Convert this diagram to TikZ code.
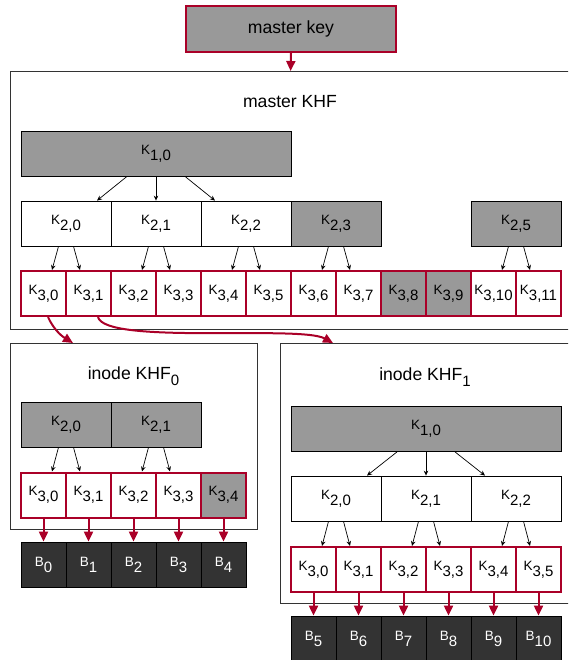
\documentclass[tikz,border=0pt]{standalone}
\usepackage{fontspec}
\setmainfont{Liberation Sans}
\usetikzlibrary{arrows.meta,calc}
\definecolor{kred}{RGB}{170,0,40}
\definecolor{kgray}{RGB}{153,153,153}
\definecolor{kdark}{RGB}{51,51,51}
\newcommand\lab[2]{#1\raisebox{-6pt}{\fontsize{15}{15}\selectfont #2}}
\begin{document}
\begin{tikzpicture}[x=1pt,y=-1pt,
 every node/.style={inner sep=0pt, font=\fontsize{13.5}{15}\selectfont},
 kbox/.style={draw=black, line width=0.8pt, fill=white, minimum width=90pt, minimum height=45pt},
 widebox/.style={kbox, minimum width=270pt},
 grayed/.style={fill=kgray},
 kthree/.style={draw=kred, line width=2pt, minimum width=45pt, minimum height=45pt},
 bbox/.style={draw=black, line width=0.8pt, fill=kdark, text=white, minimum width=45pt, minimum height=45pt},
 frame/.style={draw=kdark, line width=1.2pt, anchor=north west},
 title/.style={anchor=base, font=\fontsize{17.6}{20}\selectfont},
 karrow/.style={-{Stealth[length=5pt,width=4.5pt]}, line width=0.7pt},
 rarrow/.style={-{Triangle[length=10pt,width=9pt]}, draw=kred, line width=2pt},
]
\useasboundingbox (0,0) rectangle (568,660);
\clip (0,0) rectangle (568,660);

% frames
\node[frame, minimum width=560pt, minimum height=258pt] (mk) at (10,71) {};
\node[frame, minimum width=247pt, minimum height=186pt] (i0) at (10,343) {};
\node[frame, minimum width=290pt, minimum height=260pt] (i1) at (280,343) {};

% master key
\node[draw=kred, line width=2pt, fill=kgray, minimum width=210pt, minimum height=46pt,
      font=\fontsize{17.6}{20}\selectfont] (key) at (291,29) {master key};
\draw[rarrow] (key.south) -- (mk.north);

% titles
\node[title] (t0) at (290,108) {master KHF};
\node[title] (t1) at (133.5,379) {inode KHF\raisebox{-6pt}{\fontsize{15}{15}\selectfont 0}};
\node[title] (t2) at (425,380) {inode KHF\raisebox{-6pt}{\fontsize{15}{15}\selectfont 1}};

% ---------- master KHF ----------
\node[widebox, grayed] (m10) at (156,153.5) {\lab{K}{1,0}};
\foreach \i/\f in {0/white,1/white,2/white,3/kgray,5/kgray}
  \node[kbox, fill=\f] (m2\i) at (66+90*\i,223.5) {\lab{K}{2,\i}};
\foreach \i/\f in {0/white,1/white,2/white,3/white,4/white,5/white,6/white,7/white,8/kgray,9/kgray,10/white,11/white}
  \node[kthree, fill=\f] (m3\i) at (43.5+45*\i,293.5) {\lab{K}{3,\i}};
\draw[karrow] ($(m10.south)+(-29,0)$) -- ($(m20.north)+(31,0)$);
\draw[karrow] (m10.south) -- (m21.north);
\draw[karrow] ($(m10.south)+(29,0)$) -- ($(m22.north)+(-31,0)$);
\foreach \p in {0,1,2,3,5} {
  \pgfmathtruncatemacro\a{2*\p}
  \pgfmathtruncatemacro\b{2*\p+1}
  \draw[karrow] ($(m2\p.south)+(-7.5,0)$) -- ($(m3\a.north)+(8.5,0)$);
  \draw[karrow] ($(m2\p.south)+(7.5,0)$) -- ($(m3\b.north)+(-8.5,0)$);
}

% curved links
\draw[rarrow] ($(m30.south)+(4.5,0)$) .. controls (53,328) and (60,335) .. ($(i0.north west)+(63,0)$);
\draw[rarrow] ($(m31.south)+(9.5,0)$) .. controls (105,345) and (300,325) .. ($(i1.north west)+(53,0)$);

% ---------- inode KHF0 ----------
\foreach \i in {0,1}
  \node[kbox, grayed] (a2\i) at (66+90*\i,424.5) {\lab{K}{2,\i}};
\foreach \i/\f in {0/white,1/white,2/white,3/white,4/kgray}
  \node[kthree, fill=\f] (a3\i) at (43.5+45*\i,495) {\lab{K}{3,\i}};
\foreach \i in {0,...,4}
  \node[bbox] (ab\i) at (43.5+45*\i,564.5) {\lab{B}{\i}};
\foreach \p in {0,1} {
  \pgfmathtruncatemacro\a{2*\p}
  \pgfmathtruncatemacro\b{2*\p+1}
  \draw[karrow] ($(a2\p.south)+(-7.5,0)$) -- ($(a3\a.north)+(8.5,0)$);
  \draw[karrow] ($(a2\p.south)+(7.5,0)$) -- ($(a3\b.north)+(-8.5,0)$);
}
\foreach \i in {0,...,4}
  \draw[rarrow] (a3\i.south) -- (ab\i.north);

% ---------- inode KHF1 ----------
\node[widebox, grayed] (c10) at (426,429) {\lab{K}{1,0}};
\foreach \i in {0,1,2}
  \node[kbox] (c2\i) at (336+90*\i,498.5) {\lab{K}{2,\i}};
\foreach \i in {0,...,5}
  \node[kthree, fill=white] (c3\i) at (313.5+45*\i,569.5) {\lab{K}{3,\i}};
\foreach \i/\n in {0/5,1/6,2/7,3/8,4/9,5/10}
  \node[bbox] (cb\i) at (313.5+45*\i,638.5) {\lab{B}{\n}};
\draw[karrow] ($(c10.south)+(-29,0)$) -- ($(c20.north)+(31,0)$);
\draw[karrow] (c10.south) -- (c21.north);
\draw[karrow] ($(c10.south)+(29,0)$) -- ($(c22.north)+(-31,0)$);
\foreach \p in {0,1,2} {
  \pgfmathtruncatemacro\a{2*\p}
  \pgfmathtruncatemacro\b{2*\p+1}
  \draw[karrow] ($(c2\p.south)+(-7.5,0)$) -- ($(c3\a.north)+(8.5,0)$);
  \draw[karrow] ($(c2\p.south)+(7.5,0)$) -- ($(c3\b.north)+(-8.5,0)$);
}
\foreach \i in {0,...,5}
  \draw[rarrow] (c3\i.south) -- (cb\i.north);
\end{tikzpicture}
\end{document}
